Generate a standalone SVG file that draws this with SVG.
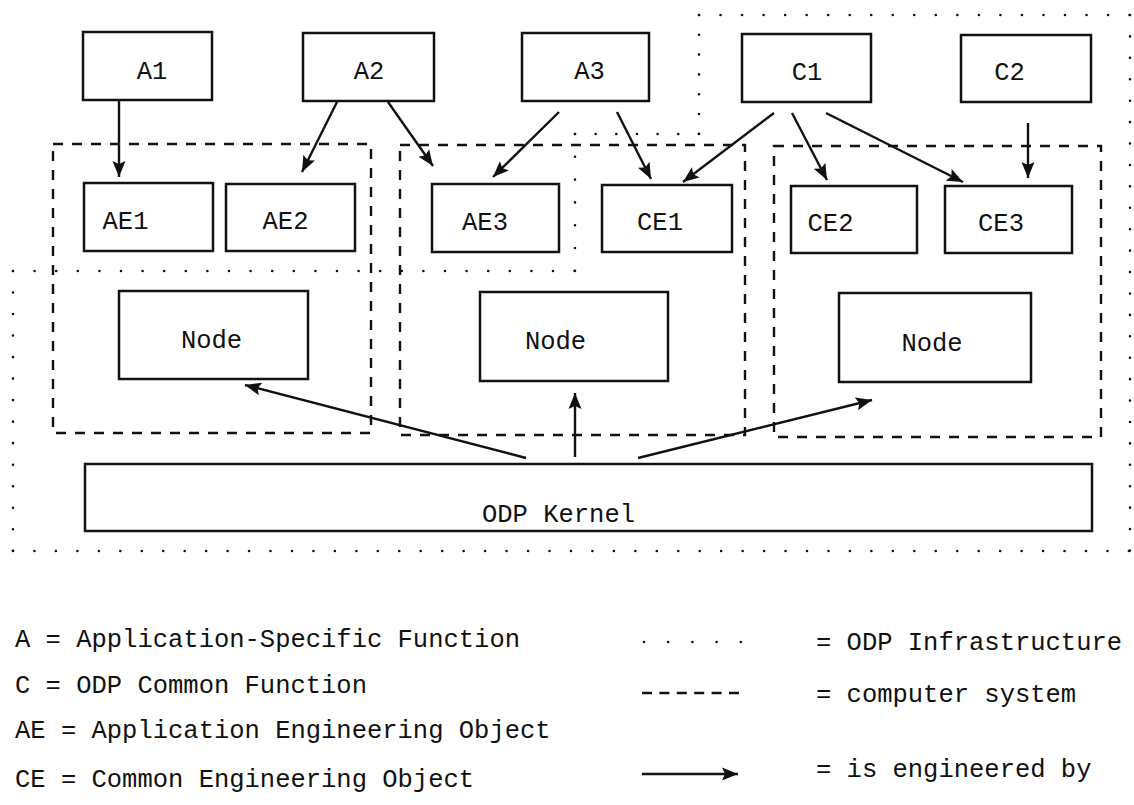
<svg xmlns="http://www.w3.org/2000/svg" width="1134" height="805" viewBox="0 0 1134 805">
<style>
text{font-family:"Liberation Mono","DejaVu Sans Mono",monospace;font-size:25.5px;fill:#111}
.lbl{text-anchor:middle}
.box{fill:#fff;stroke:#111;stroke-width:2.5}
.sys{fill:none;stroke:#111;stroke-width:2.4;stroke-dasharray:10 9}
.dot{fill:none;stroke:#111;stroke-width:2.6;stroke-linecap:round}
.arr{fill:none;stroke:#111;stroke-width:2.4;marker-end:url(#ah)}
</style>
<defs>
<marker id="ah" markerUnits="userSpaceOnUse" markerWidth="18" markerHeight="14" viewBox="0 0 18 14" refX="16" refY="7" orient="auto">
<path d="M0,0.5 L16,7 L0,13.5 L3,7 z" fill="#111"/>
</marker>
</defs>
<rect width="1134" height="805" fill="#fff"/>

<g id="odp-infrastructure">
<line class="dot" x1="699" y1="15" x2="1130" y2="15" stroke-dasharray="0 21.53"/>
<line class="dot" x1="1130" y1="15" x2="1130" y2="551" stroke-dasharray="0 21.42"/>
<line class="dot" x1="13" y1="551" x2="1130" y2="551" stroke-dasharray="0 21.46"/>
<line class="dot" x1="13" y1="271" x2="13" y2="551" stroke-dasharray="0 21.52"/>
<line class="dot" x1="13" y1="271" x2="575" y2="271" stroke-dasharray="0 21.6"/>
<line class="dot" x1="575" y1="134" x2="575" y2="271" stroke-dasharray="0 22.8"/>
<line class="dot" x1="575" y1="134" x2="699" y2="134" stroke-dasharray="0 20.65"/>
<line class="dot" x1="699" y1="15" x2="699" y2="134" stroke-dasharray="0 19.8"/>
</g>

<g id="system1"><rect class="sys" x="53" y="144" width="318" height="289"/></g>
<g id="system2"><rect class="sys" x="400" y="145" width="345" height="290"/></g>
<g id="system3"><rect class="sys" x="774" y="146" width="327" height="291"/></g>

<g id="A1"><rect class="box" x="83" y="32" width="129" height="68"/><text class="lbl" x="152" y="79">A1</text></g>
<g id="A2"><rect class="box" x="303" y="33" width="131" height="68"/><text class="lbl" x="369" y="79">A2</text></g>
<g id="A3"><rect class="box" x="522" y="33" width="127" height="68"/><text class="lbl" x="589.5" y="79">A3</text></g>
<g id="C1"><rect class="box" x="742" y="34" width="129" height="68"/><text class="lbl" x="807" y="80">C1</text></g>
<g id="C2"><rect class="box" x="961" y="35" width="130" height="67"/><text class="lbl" x="1009.5" y="80">C2</text></g>

<g id="AE1"><rect class="box" x="84" y="183" width="129" height="68"/><text class="lbl" x="125.5" y="229">AE1</text></g>
<g id="AE2"><rect class="box" x="226" y="184" width="129" height="67"/><text class="lbl" x="285.5" y="229">AE2</text></g>
<g id="AE3"><rect class="box" x="432" y="184" width="127" height="68"/><text class="lbl" x="485" y="230">AE3</text></g>
<g id="CE1"><rect class="box" x="602" y="185" width="130" height="67"/><text class="lbl" x="660" y="230">CE1</text></g>
<g id="CE2"><rect class="box" x="791" y="186" width="126" height="67"/><text class="lbl" x="830.5" y="231">CE2</text></g>
<g id="CE3"><rect class="box" x="945" y="186" width="127" height="67"/><text class="lbl" x="1001" y="231">CE3</text></g>

<g id="Node1"><rect class="box" x="119" y="291" width="189" height="88"/><text class="lbl" x="211.5" y="348">Node</text></g>
<g id="Node2"><rect class="box" x="480" y="292" width="188" height="89"/><text class="lbl" x="555.5" y="349">Node</text></g>
<g id="Node3"><rect class="box" x="839" y="293" width="192" height="89"/><text class="lbl" x="932" y="351">Node</text></g>

<g id="ODPKernel"><rect class="box" x="85" y="464" width="1007" height="67"/><text class="lbl" x="558.5" y="522">ODP Kernel</text></g>

<g id="connectors">
<line class="arr" x1="119" y1="100" x2="119" y2="177"/>
<line class="arr" x1="337" y1="102" x2="302" y2="172"/>
<line class="arr" x1="388" y1="102" x2="433" y2="166"/>
<line class="arr" x1="559" y1="112" x2="493" y2="177"/>
<line class="arr" x1="617" y1="112" x2="651" y2="179"/>
<line class="arr" x1="774" y1="113" x2="683" y2="182"/>
<line class="arr" x1="792" y1="113" x2="827" y2="180"/>
<line class="arr" x1="826" y1="113" x2="963" y2="182"/>
<line class="arr" x1="1028" y1="123" x2="1028" y2="178"/>
<line class="arr" x1="526" y1="458" x2="245" y2="385"/>
<line class="arr" x1="575" y1="457" x2="575" y2="393"/>
<line class="arr" x1="638" y1="458" x2="872" y2="400"/>
</g>

<g id="legend">
<text x="15" y="647">A = Application-Specific Function</text>
<text x="15" y="693">C = ODP Common Function</text>
<text x="15" y="738">AE = Application Engineering Object</text>
<text x="15" y="787">CE = Common Engineering Object</text>
<line class="dot" x1="644" y1="642" x2="741.5" y2="642" stroke-dasharray="0 24.2"/>
<line fill="none" stroke="#111" stroke-width="2.4" x1="642" y1="693" x2="739" y2="693" stroke-dasharray="10 7.4"/>
<line class="arr" x1="642" y1="774" x2="738" y2="774"/>
<text x="816" y="650">= ODP Infrastructure</text>
<text x="816" y="702">= computer system</text>
<text x="816" y="777">= is engineered by</text>
</g>
</svg>
